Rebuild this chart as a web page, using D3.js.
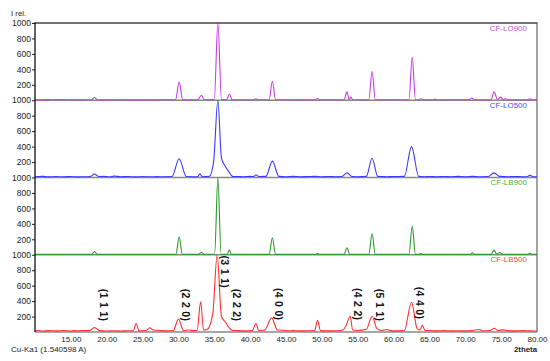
<!DOCTYPE html>
<html>
<head>
<meta charset="utf-8">
<script src="https://cdn.jsdelivr.net/npm/d3@7"></script>
<style>
  html, body { margin: 0; padding: 0; background: #fff; }
  svg { display: block; font-family: "Liberation Sans", Arial, sans-serif; }
</style>
</head>
<body>
<svg id="chart" width="550" height="361"></svg>
<script>
// ---------- data ----------
const seriesNames = ["CF-LO900", "CF-LO500", "CF-LB900", "CF-LB500"];
const seriesColors = ["#c23cf2", "#3a3aff", "#2a9a2a", "#ff2e2e"];
const labelColors = ["#c84ae0", "#4a4aff", "#3cba3c", "#ff4a4a"];

const xTicks = [15, 20, 25, 30, 35, 40, 45, 50, 55, 60, 65, 70, 75, 80];
const yTicks = [200, 400, 600, 800, 1000];

const lo900 = [[10,5],[12,8],[12.5,5],[13,10],[13.5,6],[14,9],[15,5],[17,6],[17.9,6],[18.3,35],[18.7,6],[20,5],[22,6],[25,5],[27,6],[29.6,6],[30.1,235],[30.6,6],[32.7,6],[33.2,65],[33.6,6],[35.0,8],[35.5,1000],[36.0,8],[36.7,6],[37.1,78],[37.5,6],[39,6],[40.5,6],[40.8,20],[41.1,6],[42.65,6],[43.1,245],[43.55,6],[45,6],[47,5],[49,6],[49.4,22],[49.8,6],[52,6],[53.1,6],[53.5,108],[53.8,10],[54.05,40],[54.3,6],[56.55,6],[57.0,375],[57.45,6],[62.15,6],[62.6,555],[63.05,6],[63.5,6],[63.8,20],[64.1,6],[65.5,6],[65.8,15],[66.1,6],[70.5,6],[70.9,30],[71.3,6],[73.6,6],[74.0,108],[74.5,10],[74.9,40],[75.3,8],[75.6,20],[76,6],[78.7,6],[79.0,20],[79.3,6],[80,6]];

const lo500 = [[10,10],[11,14],[12,8],[13,12],[14,9],[15,13],[16,8],[17,10],[17.7,12],[18.3,45],[18.9,12],[19.5,15],[20.5,10],[21,18],[22,10],[23,12],[24,8],[25,12],[26,9],[27,11],[28,10],[29.1,12],[30.1,243],[31.1,12],[32,10],[32.7,10],[33.0,48],[33.3,10],[34.3,15],[34.9,200],[35.5,1000],[36.0,250],[36.5,150],[37.0,80],[37.6,12],[38.3,12],[39,10],[40,14],[40.5,12],[40.8,35],[41.2,12],[42.2,14],[43.1,212],[44,14],[45,10],[46,14],[47,10],[48,12],[49,15],[50,10],[51,12],[52,10],[52.8,12],[53.5,61],[54.2,12],[55,10],[56.2,14],[57.0,250],[57.8,14],[58.5,12],[59,10],[60,12],[61.5,14],[62.5,400],[63.5,14],[64.3,10],[65,12],[66,10],[67,12],[68,10],[69,14],[70,10],[71,15],[72,10],[73.2,12],[74.0,60],[74.8,14],[76,10],[77,12],[78,10],[78.6,10],[79.0,28],[79.5,10],[80,8]];

const lb900 = [[10,5],[12,6],[14,5],[15,7],[17,5],[17.9,5],[18.3,40],[18.7,5],[21,6],[24,5],[27,6],[29.65,5],[30.1,230],[30.55,5],[32.8,5],[33.2,30],[33.6,5],[35.05,6],[35.5,1000],[35.95,6],[36.8,5],[37.1,65],[37.4,5],[40,6],[42.65,5],[43.1,220],[43.55,5],[47,6],[49.1,5],[49.4,15],[49.7,5],[53.1,5],[53.5,90],[53.9,5],[56.55,5],[57.0,275],[57.45,5],[62.15,5],[62.6,370],[63.05,5],[63.6,5],[63.8,20],[64.0,5],[68,6],[70.7,5],[71.0,25],[71.3,5],[73.6,5],[74.0,60],[74.4,5],[74.8,30],[75.2,5],[78.7,5],[79.0,18],[79.3,5],[80,5]];

const lb500 = [[10,15],[10.5,22],[11,12],[12,18],[13,14],[14,20],[15,12],[15.5,18],[16,15],[17,20],[17.6,18],[18.3,57],[19,18],[20,12],[21,16],[22,12],[23,16],[23.7,15],[24.1,110],[24.5,15],[25.5,20],[26.0,55],[26.5,25],[27.5,18],[28.5,15],[29.3,20],[30.0,167],[30.7,20],[31.5,25],[32.2,18],[32.6,20],[33.1,390],[33.5,25],[34.1,40],[34.8,250],[35.4,1000],[36.0,200],[36.6,123],[37.1,50],[37.6,20],[38,20],[39,15],[40.3,18],[40.8,110],[41.2,20],[42,22],[43.0,183],[43.8,25],[44.6,22],[45.2,15],[46,18],[47,14],[48,16],[49,18],[49.4,153],[49.8,18],[51,14],[52,16],[53,30],[53.35,77],[53.95,203],[54.3,25],[55,20],[56.2,35],[57.0,203],[57.7,40],[58.3,20],[59.05,32],[59.6,18],[60.5,14],[61.5,18],[62.5,385],[63.3,40],[63.7,25],[64.0,90],[64.4,18],[65,20],[66,14],[67,18],[68,14],[69,16],[70,14],[71,18],[71.9,32],[72.5,16],[73.5,20],[74.0,48],[74.6,20],[75.3,28],[76,15],[77,14],[78,18],[79,15],[80,12]];

const seriesData = [lo900, lo500, lb900, lb500];

// hkl reflections annotated on CF-LB500
const hklLabels = ["(1 1 1)", "(2 2 0)", "(3 1 1)", "(2 2 2)", "(4 0 0)", "(4 2 2)", "(5 1 1)", "(4 4 0)"];
const hklTheta  = [18.5, 30.0, 35.4, 37.0, 42.9, 53.95, 57.0, 62.5];
const hklLevel  = [350, 350, 780, 350, 360, 360, 350, 375];

// ---------- layout ----------
const svg = d3.select("#chart");
const pLeft = 35, pRight = 537, pTop = 23, panelH = 77.25;
const nPanels = seriesData.length;
const pBottom = pTop + panelH * nPanels;

const x = d3.scaleLinear().domain([10, 80]).range([pLeft, pRight]);
const yScales = seriesData.map((d, i) =>
  d3.scaleLinear().domain([0, 1000]).range([pTop + panelH * (i + 1), pTop + panelH * i]));

// panel separators / baselines (gray)
for (let i = 0; i < nPanels; i++) {
  svg.append("line")
    .attr("x1", pLeft).attr("x2", pRight)
    .attr("y1", yScales[i](0)).attr("y2", yScales[i](0))
    .attr("stroke", "#8a8a8a").attr("stroke-width", 1.6);
}

// data lines
seriesData.forEach((d, i) => {
  const line = d3.line()
    .x(p => x(p[0]))
    .y(p => yScales[i](p[1]))
    .curve(d3.curveMonotoneX);
  svg.append("path")
    .datum(d)
    .attr("d", line)
    .attr("fill", "none")
    .attr("stroke", seriesColors[i])
    .attr("stroke-width", 1.1)
    .attr("stroke-linejoin", "round");
});

// frame: top & right
svg.append("line").attr("x1", pLeft).attr("x2", pRight + 0.5).attr("y1", pTop).attr("y2", pTop)
  .attr("stroke", "#444").attr("stroke-width", 1.6);
svg.append("line").attr("x1", pRight).attr("x2", pRight).attr("y1", pTop).attr("y2", pBottom)
  .attr("stroke", "#666").attr("stroke-width", 1.2);

// y axes per panel
yScales.forEach((ys, i) => {
  const g = svg.append("g").attr("transform", `translate(${pLeft},0)`)
    .call(d3.axisLeft(ys).tickValues(yTicks).tickSize(3).tickPadding(1).tickFormat(d3.format("d")));
  g.select(".domain").remove();
  g.selectAll(".tick line").attr("stroke", "#222");
  g.selectAll(".tick text").attr("font-size", 8.5).attr("fill", "#222")
    .attr("font-family", "'Liberation Sans', Arial, sans-serif");
});
svg.append("line").attr("x1", pLeft).attr("x2", pLeft).attr("y1", pTop - 0.8).attr("y2", pBottom)
  .attr("stroke", "#111").attr("stroke-width", 1.3);

// x axis
const gx = svg.append("g").attr("transform", `translate(0,${pBottom})`)
  .call(d3.axisBottom(x).tickValues(xTicks).tickSize(0).tickPadding(4).tickFormat(d3.format(".2f")));
gx.select(".domain").remove();
gx.selectAll(".tick text").attr("font-size", 8).attr("fill", "#222")
  .attr("font-family", "'Liberation Sans', Arial, sans-serif");

// series labels
seriesNames.forEach((n, i) => {
  svg.append("text")
    .attr("x", 527).attr("y", yScales[i](1000) + 7.6)
    .attr("text-anchor", "end")
    .attr("font-size", 8)
    .attr("fill", labelColors[i])
    .text(n);
});

// hkl labels on bottom panel
const yb = yScales[nPanels - 1];
hklLabels.forEach((t, i) => {
  const cx = x(hklTheta[i]) + 8, cy = yb(hklLevel[i]);
  svg.append("text")
    .attr("transform", `translate(${cx},${cy}) rotate(90)`)
    .attr("text-anchor", "middle")
    .attr("dominant-baseline", "central")
    .attr("font-size", 10.5)
    .attr("font-weight", "bold")
    .attr("letter-spacing", 0.3)
    .attr("fill", "#111")
    .text(t);
});

// misc texts
svg.append("text").attr("x", 11).attr("y", 16).attr("font-size", 7.8).attr("fill", "#222").text("I rel.");
svg.append("text").attr("x", 11).attr("y", 352).attr("font-size", 8).attr("fill", "#222").text("Cu-Ka1 (1.540598 A)");
svg.append("text").attr("x", 537).attr("y", 352).attr("text-anchor", "end")
  .attr("font-size", 7.8).attr("font-weight", "bold").attr("fill", "#222").text("2theta");
</script>
</body>
</html>
